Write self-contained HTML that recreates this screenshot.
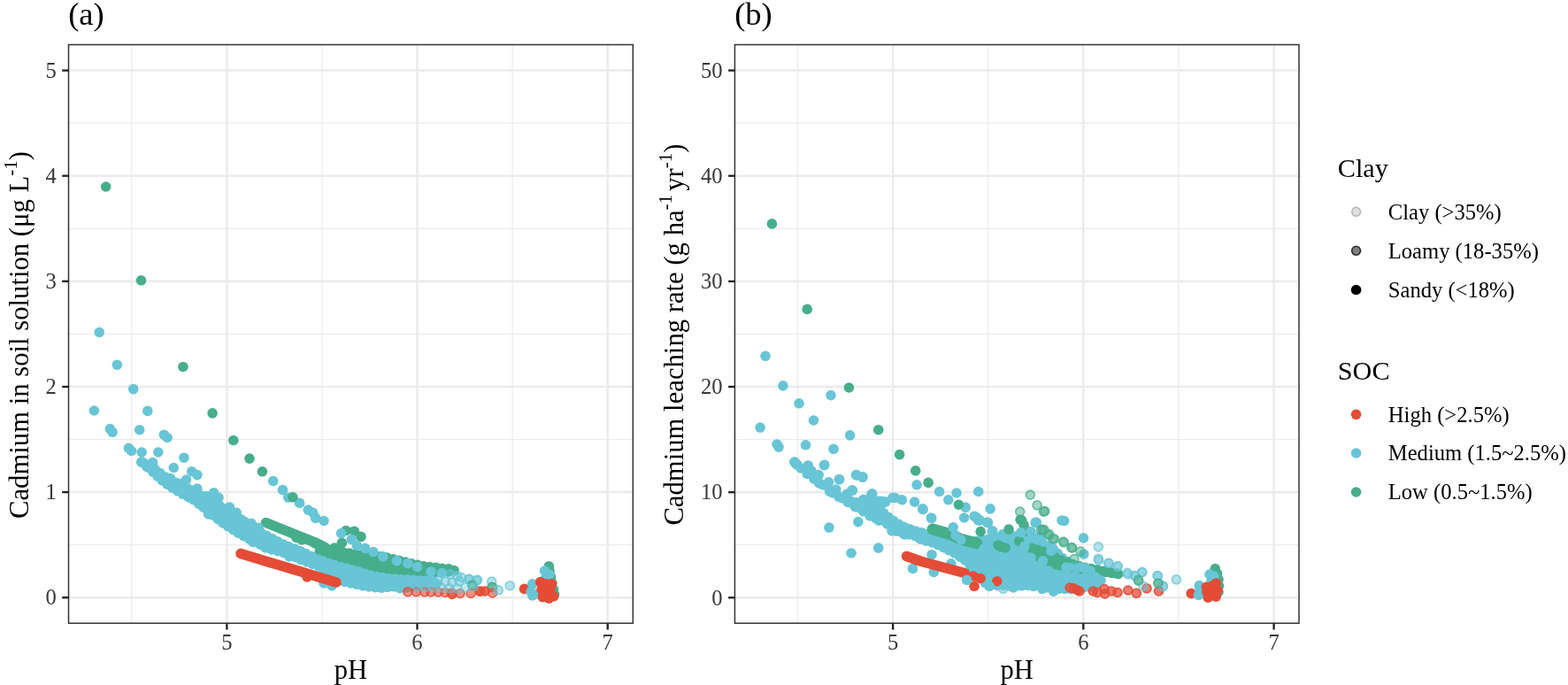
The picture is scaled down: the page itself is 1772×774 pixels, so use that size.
<!DOCTYPE html>
<html><head><meta charset="utf-8"><title>Cadmium vs pH</title><style>html,body{margin:0;padding:0;background:#fff;}svg{display:block;}</style></head><body>
<svg width="1772" height="774" viewBox="0 0 1772 774" font-family='"Liberation Serif", serif'>
<rect width="1772" height="774" fill="#ffffff"/>
<rect x="77.5" y="50.5" width="637.8" height="653.7" fill="#ffffff"/>
<line x1="148.8" y1="50.5" x2="148.8" y2="704.2" stroke="#EBEBEB" stroke-width="1.2"/>
<line x1="364.0" y1="50.5" x2="364.0" y2="704.2" stroke="#EBEBEB" stroke-width="1.2"/>
<line x1="579.1" y1="50.5" x2="579.1" y2="704.2" stroke="#EBEBEB" stroke-width="1.2"/>
<line x1="77.5" y1="615.6" x2="715.3" y2="615.6" stroke="#EBEBEB" stroke-width="1.2"/>
<line x1="77.5" y1="496.5" x2="715.3" y2="496.5" stroke="#EBEBEB" stroke-width="1.2"/>
<line x1="77.5" y1="377.4" x2="715.3" y2="377.4" stroke="#EBEBEB" stroke-width="1.2"/>
<line x1="77.5" y1="258.3" x2="715.3" y2="258.3" stroke="#EBEBEB" stroke-width="1.2"/>
<line x1="77.5" y1="139.2" x2="715.3" y2="139.2" stroke="#EBEBEB" stroke-width="1.2"/>
<line x1="256.4" y1="50.5" x2="256.4" y2="704.2" stroke="#EBEBEB" stroke-width="2.5"/>
<line x1="471.5" y1="50.5" x2="471.5" y2="704.2" stroke="#EBEBEB" stroke-width="2.5"/>
<line x1="686.7" y1="50.5" x2="686.7" y2="704.2" stroke="#EBEBEB" stroke-width="2.5"/>
<line x1="77.5" y1="675.2" x2="715.3" y2="675.2" stroke="#EBEBEB" stroke-width="2.5"/>
<line x1="77.5" y1="556.1" x2="715.3" y2="556.1" stroke="#EBEBEB" stroke-width="2.5"/>
<line x1="77.5" y1="437.0" x2="715.3" y2="437.0" stroke="#EBEBEB" stroke-width="2.5"/>
<line x1="77.5" y1="317.8" x2="715.3" y2="317.8" stroke="#EBEBEB" stroke-width="2.5"/>
<line x1="77.5" y1="198.7" x2="715.3" y2="198.7" stroke="#EBEBEB" stroke-width="2.5"/>
<line x1="77.5" y1="79.6" x2="715.3" y2="79.6" stroke="#EBEBEB" stroke-width="2.5"/>
<line x1="901.5" y1="50.5" x2="901.5" y2="704.2" stroke="#EBEBEB" stroke-width="1.2"/>
<line x1="1116.7" y1="50.5" x2="1116.7" y2="704.2" stroke="#EBEBEB" stroke-width="1.2"/>
<line x1="1331.9" y1="50.5" x2="1331.9" y2="704.2" stroke="#EBEBEB" stroke-width="1.2"/>
<line x1="830.4" y1="615.7" x2="1468.0" y2="615.7" stroke="#EBEBEB" stroke-width="1.2"/>
<line x1="830.4" y1="496.6" x2="1468.0" y2="496.6" stroke="#EBEBEB" stroke-width="1.2"/>
<line x1="830.4" y1="377.4" x2="1468.0" y2="377.4" stroke="#EBEBEB" stroke-width="1.2"/>
<line x1="830.4" y1="258.3" x2="1468.0" y2="258.3" stroke="#EBEBEB" stroke-width="1.2"/>
<line x1="830.4" y1="139.2" x2="1468.0" y2="139.2" stroke="#EBEBEB" stroke-width="1.2"/>
<line x1="1009.1" y1="50.5" x2="1009.1" y2="704.2" stroke="#EBEBEB" stroke-width="2.5"/>
<line x1="1224.3" y1="50.5" x2="1224.3" y2="704.2" stroke="#EBEBEB" stroke-width="2.5"/>
<line x1="1439.6" y1="50.5" x2="1439.6" y2="704.2" stroke="#EBEBEB" stroke-width="2.5"/>
<line x1="830.4" y1="675.3" x2="1468.0" y2="675.3" stroke="#EBEBEB" stroke-width="2.5"/>
<line x1="830.4" y1="556.2" x2="1468.0" y2="556.2" stroke="#EBEBEB" stroke-width="2.5"/>
<line x1="830.4" y1="437.0" x2="1468.0" y2="437.0" stroke="#EBEBEB" stroke-width="2.5"/>
<line x1="830.4" y1="317.9" x2="1468.0" y2="317.9" stroke="#EBEBEB" stroke-width="2.5"/>
<line x1="830.4" y1="198.7" x2="1468.0" y2="198.7" stroke="#EBEBEB" stroke-width="2.5"/>
<line x1="830.4" y1="79.6" x2="1468.0" y2="79.6" stroke="#EBEBEB" stroke-width="2.5"/>
<g><path d="M300.5,590.5 L330.0,602.5 L354.6,612.3 L368.0,619.0" fill="none" stroke="#47AE8C" stroke-width="11.6" stroke-linecap="round" stroke-linejoin="round"/>
<circle cx="335.0" cy="607.5" r="5.8" fill="#47AE8C"/>
<circle cx="341.0" cy="610.0" r="5.8" fill="#47AE8C"/>
<circle cx="356.0" cy="614.0" r="5.8" fill="#47AE8C"/>
<circle cx="362.0" cy="616.0" r="5.8" fill="#47AE8C"/>
<path d="M360.8,616.6 L360.8,623.3 L372.2,628.6 L401.4,639.4 L450.5,646.7 L489.8,647.2 L512.6,645.4 L513.3,644.3 L511.8,643.2 L499.3,642.3 L474.6,639.1 L434.0,629.2 L399.4,625.8 L375.2,622.2 L360.8,616.6Z" fill="#47AE8C"/>
<circle cx="360.8" cy="616.6" r="5.8" fill="#47AE8C"/>
<circle cx="361.2" cy="623.5" r="5.8" fill="#47AE8C"/>
<circle cx="367.6" cy="626.5" r="5.8" fill="#47AE8C"/>
<circle cx="374.1" cy="629.3" r="5.8" fill="#47AE8C"/>
<circle cx="380.7" cy="631.8" r="5.8" fill="#47AE8C"/>
<circle cx="387.4" cy="634.2" r="5.8" fill="#47AE8C"/>
<circle cx="394.1" cy="636.7" r="5.8" fill="#47AE8C"/>
<circle cx="400.7" cy="639.1" r="5.8" fill="#47AE8C"/>
<circle cx="407.7" cy="640.3" r="5.8" fill="#47AE8C"/>
<circle cx="414.7" cy="641.3" r="5.8" fill="#47AE8C"/>
<circle cx="421.8" cy="642.4" r="5.8" fill="#47AE8C"/>
<circle cx="428.8" cy="643.5" r="5.8" fill="#47AE8C"/>
<circle cx="435.8" cy="644.5" r="5.8" fill="#47AE8C"/>
<circle cx="442.8" cy="645.6" r="5.8" fill="#47AE8C"/>
<circle cx="449.8" cy="646.6" r="5.8" fill="#47AE8C"/>
<circle cx="456.9" cy="646.8" r="5.8" fill="#47AE8C"/>
<circle cx="464.0" cy="646.9" r="5.8" fill="#47AE8C"/>
<circle cx="471.1" cy="647.0" r="5.8" fill="#47AE8C"/>
<circle cx="478.2" cy="647.1" r="5.8" fill="#47AE8C"/>
<circle cx="485.3" cy="647.1" r="5.8" fill="#47AE8C"/>
<circle cx="492.4" cy="647.0" r="5.8" fill="#47AE8C"/>
<circle cx="499.5" cy="646.5" r="5.8" fill="#47AE8C"/>
<circle cx="506.6" cy="645.9" r="5.8" fill="#47AE8C"/>
<circle cx="513.2" cy="644.6" r="5.8" fill="#47AE8C"/>
<circle cx="506.9" cy="642.8" r="5.8" fill="#47AE8C"/>
<circle cx="499.9" cy="642.3" r="5.8" fill="#47AE8C"/>
<circle cx="492.8" cy="641.4" r="5.8" fill="#47AE8C"/>
<circle cx="485.8" cy="640.5" r="5.8" fill="#47AE8C"/>
<circle cx="478.7" cy="639.7" r="5.8" fill="#47AE8C"/>
<circle cx="471.8" cy="638.4" r="5.8" fill="#47AE8C"/>
<circle cx="464.9" cy="636.8" r="5.8" fill="#47AE8C"/>
<circle cx="458.0" cy="635.1" r="5.8" fill="#47AE8C"/>
<circle cx="451.1" cy="633.4" r="5.8" fill="#47AE8C"/>
<circle cx="444.2" cy="631.7" r="5.8" fill="#47AE8C"/>
<circle cx="437.3" cy="630.0" r="5.8" fill="#47AE8C"/>
<circle cx="430.3" cy="628.9" r="5.8" fill="#47AE8C"/>
<circle cx="423.2" cy="628.2" r="5.8" fill="#47AE8C"/>
<circle cx="416.2" cy="627.4" r="5.8" fill="#47AE8C"/>
<circle cx="409.1" cy="626.7" r="5.8" fill="#47AE8C"/>
<circle cx="402.0" cy="626.0" r="5.8" fill="#47AE8C"/>
<circle cx="395.0" cy="625.1" r="5.8" fill="#47AE8C"/>
<circle cx="388.0" cy="624.1" r="5.8" fill="#47AE8C"/>
<circle cx="381.0" cy="623.1" r="5.8" fill="#47AE8C"/>
<circle cx="374.0" cy="621.8" r="5.8" fill="#47AE8C"/>
<circle cx="367.4" cy="619.2" r="5.8" fill="#47AE8C"/>
<circle cx="391.0" cy="599.5" r="5.8" fill="#47AE8C"/>
<circle cx="400.3" cy="600.2" r="5.8" fill="#47AE8C"/>
<circle cx="408.0" cy="606.4" r="5.8" fill="#47AE8C"/>
<circle cx="386.4" cy="613.4" r="5.8" fill="#47AE8C"/>
<circle cx="378.0" cy="619.0" r="5.8" fill="#47AE8C"/>
<path d="M163.0,523.5 L183.7,543.5 L193.2,550.2 L204.8,557.4 L218.1,564.1 L236.6,578.4 L249.5,589.3 L268.0,601.5 L287.6,612.3 L302.1,619.1 L326.6,626.4 L342.2,633.1 L362.6,640.8 L375.3,651.2 L385.0,656.5 L414.8,662.8 L430.0,664.2 L445.6,662.7 L453.4,665.0 L469.4,662.2 L493.1,659.9 L493.5,658.1 L491.7,656.7 L439.7,653.8 L421.0,650.7 L404.4,645.6 L374.5,637.6 L358.0,631.4 L337.7,621.8 L321.4,615.7 L290.3,599.6 L257.0,576.0 L245.4,570.2 L232.1,562.0 L217.4,554.2 L188.4,540.2 L174.8,529.9 L163.0,523.5Z" fill="#68C5D6"/>
<circle cx="163.0" cy="523.5" r="5.8" fill="#68C5D6"/>
<circle cx="168.1" cy="528.4" r="5.8" fill="#68C5D6"/>
<circle cx="173.1" cy="533.3" r="5.8" fill="#68C5D6"/>
<circle cx="178.2" cy="538.1" r="5.8" fill="#68C5D6"/>
<circle cx="183.2" cy="543.0" r="5.8" fill="#68C5D6"/>
<circle cx="188.9" cy="547.1" r="5.8" fill="#68C5D6"/>
<circle cx="194.7" cy="551.1" r="5.8" fill="#68C5D6"/>
<circle cx="200.6" cy="554.8" r="5.8" fill="#68C5D6"/>
<circle cx="206.6" cy="558.3" r="5.8" fill="#68C5D6"/>
<circle cx="212.9" cy="561.5" r="5.8" fill="#68C5D6"/>
<circle cx="219.0" cy="564.8" r="5.8" fill="#68C5D6"/>
<circle cx="224.6" cy="569.1" r="5.8" fill="#68C5D6"/>
<circle cx="230.1" cy="573.4" r="5.8" fill="#68C5D6"/>
<circle cx="235.6" cy="577.7" r="5.8" fill="#68C5D6"/>
<circle cx="241.0" cy="582.2" r="5.8" fill="#68C5D6"/>
<circle cx="246.4" cy="586.7" r="5.8" fill="#68C5D6"/>
<circle cx="251.9" cy="591.0" r="5.8" fill="#68C5D6"/>
<circle cx="257.8" cy="594.8" r="5.8" fill="#68C5D6"/>
<circle cx="263.6" cy="598.7" r="5.8" fill="#68C5D6"/>
<circle cx="269.6" cy="602.4" r="5.8" fill="#68C5D6"/>
<circle cx="275.7" cy="605.8" r="5.8" fill="#68C5D6"/>
<circle cx="281.8" cy="609.1" r="5.8" fill="#68C5D6"/>
<circle cx="288.0" cy="612.5" r="5.8" fill="#68C5D6"/>
<circle cx="294.3" cy="615.5" r="5.8" fill="#68C5D6"/>
<circle cx="300.7" cy="618.4" r="5.8" fill="#68C5D6"/>
<circle cx="307.3" cy="620.6" r="5.8" fill="#68C5D6"/>
<circle cx="314.0" cy="622.7" r="5.8" fill="#68C5D6"/>
<circle cx="320.7" cy="624.7" r="5.8" fill="#68C5D6"/>
<circle cx="327.4" cy="626.8" r="5.8" fill="#68C5D6"/>
<circle cx="333.9" cy="629.5" r="5.8" fill="#68C5D6"/>
<circle cx="340.3" cy="632.3" r="5.8" fill="#68C5D6"/>
<circle cx="346.8" cy="634.9" r="5.8" fill="#68C5D6"/>
<circle cx="353.4" cy="637.3" r="5.8" fill="#68C5D6"/>
<circle cx="359.9" cy="639.8" r="5.8" fill="#68C5D6"/>
<circle cx="365.8" cy="643.4" r="5.8" fill="#68C5D6"/>
<circle cx="371.2" cy="647.9" r="5.8" fill="#68C5D6"/>
<circle cx="376.9" cy="652.0" r="5.8" fill="#68C5D6"/>
<circle cx="383.0" cy="655.4" r="5.8" fill="#68C5D6"/>
<circle cx="389.6" cy="657.5" r="5.8" fill="#68C5D6"/>
<circle cx="396.5" cy="658.9" r="5.8" fill="#68C5D6"/>
<circle cx="403.3" cy="660.3" r="5.8" fill="#68C5D6"/>
<circle cx="410.2" cy="661.8" r="5.8" fill="#68C5D6"/>
<circle cx="417.1" cy="663.0" r="5.8" fill="#68C5D6"/>
<circle cx="424.1" cy="663.6" r="5.8" fill="#68C5D6"/>
<circle cx="431.1" cy="664.1" r="5.8" fill="#68C5D6"/>
<circle cx="438.0" cy="663.4" r="5.8" fill="#68C5D6"/>
<circle cx="445.0" cy="662.8" r="5.8" fill="#68C5D6"/>
<circle cx="451.7" cy="664.6" r="5.8" fill="#68C5D6"/>
<circle cx="458.6" cy="664.1" r="5.8" fill="#68C5D6"/>
<circle cx="465.5" cy="662.9" r="5.8" fill="#68C5D6"/>
<circle cx="472.4" cy="661.9" r="5.8" fill="#68C5D6"/>
<circle cx="479.4" cy="661.2" r="5.8" fill="#68C5D6"/>
<circle cx="486.4" cy="660.5" r="5.8" fill="#68C5D6"/>
<circle cx="493.1" cy="659.6" r="5.8" fill="#68C5D6"/>
<circle cx="488.5" cy="656.5" r="5.8" fill="#68C5D6"/>
<circle cx="481.5" cy="656.1" r="5.8" fill="#68C5D6"/>
<circle cx="474.5" cy="655.7" r="5.8" fill="#68C5D6"/>
<circle cx="467.5" cy="655.3" r="5.8" fill="#68C5D6"/>
<circle cx="460.5" cy="654.9" r="5.8" fill="#68C5D6"/>
<circle cx="453.5" cy="654.6" r="5.8" fill="#68C5D6"/>
<circle cx="446.5" cy="654.2" r="5.8" fill="#68C5D6"/>
<circle cx="439.5" cy="653.8" r="5.8" fill="#68C5D6"/>
<circle cx="432.6" cy="652.6" r="5.8" fill="#68C5D6"/>
<circle cx="425.7" cy="651.5" r="5.8" fill="#68C5D6"/>
<circle cx="418.9" cy="650.0" r="5.8" fill="#68C5D6"/>
<circle cx="412.2" cy="648.0" r="5.8" fill="#68C5D6"/>
<circle cx="405.5" cy="645.9" r="5.8" fill="#68C5D6"/>
<circle cx="398.7" cy="644.1" r="5.8" fill="#68C5D6"/>
<circle cx="392.0" cy="642.3" r="5.8" fill="#68C5D6"/>
<circle cx="385.2" cy="640.5" r="5.8" fill="#68C5D6"/>
<circle cx="378.4" cy="638.6" r="5.8" fill="#68C5D6"/>
<circle cx="371.7" cy="636.6" r="5.8" fill="#68C5D6"/>
<circle cx="365.2" cy="634.1" r="5.8" fill="#68C5D6"/>
<circle cx="358.6" cy="631.7" r="5.8" fill="#68C5D6"/>
<circle cx="352.2" cy="628.7" r="5.8" fill="#68C5D6"/>
<circle cx="345.9" cy="625.7" r="5.8" fill="#68C5D6"/>
<circle cx="339.6" cy="622.7" r="5.8" fill="#68C5D6"/>
<circle cx="333.1" cy="620.1" r="5.8" fill="#68C5D6"/>
<circle cx="326.5" cy="617.6" r="5.8" fill="#68C5D6"/>
<circle cx="320.1" cy="615.0" r="5.8" fill="#68C5D6"/>
<circle cx="313.8" cy="611.8" r="5.8" fill="#68C5D6"/>
<circle cx="307.6" cy="608.6" r="5.8" fill="#68C5D6"/>
<circle cx="301.4" cy="605.3" r="5.8" fill="#68C5D6"/>
<circle cx="295.1" cy="602.1" r="5.8" fill="#68C5D6"/>
<circle cx="289.0" cy="598.7" r="5.8" fill="#68C5D6"/>
<circle cx="283.3" cy="594.7" r="5.8" fill="#68C5D6"/>
<circle cx="277.6" cy="590.6" r="5.8" fill="#68C5D6"/>
<circle cx="271.9" cy="586.6" r="5.8" fill="#68C5D6"/>
<circle cx="266.2" cy="582.5" r="5.8" fill="#68C5D6"/>
<circle cx="260.5" cy="578.4" r="5.8" fill="#68C5D6"/>
<circle cx="254.5" cy="574.8" r="5.8" fill="#68C5D6"/>
<circle cx="248.3" cy="571.6" r="5.8" fill="#68C5D6"/>
<circle cx="242.2" cy="568.2" r="5.8" fill="#68C5D6"/>
<circle cx="236.2" cy="564.5" r="5.8" fill="#68C5D6"/>
<circle cx="230.2" cy="561.0" r="5.8" fill="#68C5D6"/>
<circle cx="224.0" cy="557.7" r="5.8" fill="#68C5D6"/>
<circle cx="217.8" cy="554.4" r="5.8" fill="#68C5D6"/>
<circle cx="211.5" cy="551.3" r="5.8" fill="#68C5D6"/>
<circle cx="205.2" cy="548.3" r="5.8" fill="#68C5D6"/>
<circle cx="198.9" cy="545.2" r="5.8" fill="#68C5D6"/>
<circle cx="192.6" cy="542.2" r="5.8" fill="#68C5D6"/>
<circle cx="186.5" cy="538.7" r="5.8" fill="#68C5D6"/>
<circle cx="180.9" cy="534.5" r="5.8" fill="#68C5D6"/>
<circle cx="175.3" cy="530.3" r="5.8" fill="#68C5D6"/>
<circle cx="169.2" cy="526.9" r="5.8" fill="#68C5D6"/>
<circle cx="159.8" cy="522.2" r="5.8" fill="#68C5D6"/>
<circle cx="166.0" cy="527.5" r="5.8" fill="#68C5D6"/>
<circle cx="173.0" cy="533.0" r="5.8" fill="#68C5D6"/>
<circle cx="178.0" cy="537.5" r="5.8" fill="#68C5D6"/>
<circle cx="184.6" cy="541.0" r="5.8" fill="#68C5D6"/>
<circle cx="191.0" cy="546.0" r="5.8" fill="#68C5D6"/>
<circle cx="197.0" cy="550.0" r="5.8" fill="#68C5D6"/>
<circle cx="204.0" cy="554.0" r="5.8" fill="#68C5D6"/>
<circle cx="211.0" cy="558.5" r="5.8" fill="#68C5D6"/>
<circle cx="218.0" cy="563.0" r="5.8" fill="#68C5D6"/>
<circle cx="225.0" cy="568.0" r="5.8" fill="#68C5D6"/>
<circle cx="112.2" cy="375.5" r="5.8" fill="#68C5D6"/>
<circle cx="132.3" cy="412.2" r="5.8" fill="#68C5D6"/>
<circle cx="150.7" cy="439.6" r="5.8" fill="#68C5D6"/>
<circle cx="106.4" cy="464.0" r="5.8" fill="#68C5D6"/>
<circle cx="166.8" cy="464.4" r="5.8" fill="#68C5D6"/>
<circle cx="124.4" cy="484.6" r="5.8" fill="#68C5D6"/>
<circle cx="127.1" cy="488.3" r="5.8" fill="#68C5D6"/>
<circle cx="157.7" cy="485.7" r="5.8" fill="#68C5D6"/>
<circle cx="185.4" cy="491.2" r="5.8" fill="#68C5D6"/>
<circle cx="189.1" cy="494.5" r="5.8" fill="#68C5D6"/>
<circle cx="145.4" cy="506.4" r="5.8" fill="#68C5D6"/>
<circle cx="148.5" cy="509.5" r="5.8" fill="#68C5D6"/>
<circle cx="160.2" cy="511.0" r="5.8" fill="#68C5D6"/>
<circle cx="178.8" cy="511.0" r="5.8" fill="#68C5D6"/>
<circle cx="207.9" cy="517.2" r="5.8" fill="#68C5D6"/>
<circle cx="160.2" cy="521.9" r="5.8" fill="#68C5D6"/>
<circle cx="172.6" cy="522.6" r="5.8" fill="#68C5D6"/>
<circle cx="196.3" cy="528.5" r="5.8" fill="#68C5D6"/>
<circle cx="216.7" cy="532.7" r="5.8" fill="#68C5D6"/>
<circle cx="222.9" cy="536.6" r="5.8" fill="#68C5D6"/>
<circle cx="185.0" cy="542.0" r="5.8" fill="#68C5D6"/>
<circle cx="192.7" cy="540.5" r="5.8" fill="#68C5D6"/>
<circle cx="210.5" cy="542.0" r="5.8" fill="#68C5D6"/>
<circle cx="203.6" cy="546.7" r="5.8" fill="#68C5D6"/>
<circle cx="222.9" cy="552.0" r="5.8" fill="#68C5D6"/>
<circle cx="233.0" cy="560.6" r="5.8" fill="#68C5D6"/>
<circle cx="241.6" cy="556.7" r="5.8" fill="#68C5D6"/>
<circle cx="247.0" cy="562.2" r="5.8" fill="#68C5D6"/>
<circle cx="259.4" cy="573.0" r="5.8" fill="#68C5D6"/>
<circle cx="267.1" cy="579.2" r="5.8" fill="#68C5D6"/>
<circle cx="274.9" cy="588.5" r="5.8" fill="#68C5D6"/>
<circle cx="284.2" cy="591.6" r="5.8" fill="#68C5D6"/>
<circle cx="292.0" cy="596.3" r="5.8" fill="#68C5D6"/>
<circle cx="214.4" cy="562.2" r="5.8" fill="#68C5D6"/>
<circle cx="206.7" cy="556.0" r="5.8" fill="#68C5D6"/>
<circle cx="195.8" cy="550.5" r="5.8" fill="#68C5D6"/>
<circle cx="226.8" cy="570.0" r="5.8" fill="#68C5D6"/>
<circle cx="236.1" cy="573.0" r="5.8" fill="#68C5D6"/>
<circle cx="242.3" cy="580.8" r="5.8" fill="#68C5D6"/>
<circle cx="251.6" cy="585.4" r="5.8" fill="#68C5D6"/>
<circle cx="264.0" cy="591.6" r="5.8" fill="#68C5D6"/>
<circle cx="235.7" cy="581.0" r="5.8" fill="#68C5D6"/>
<circle cx="246.5" cy="586.0" r="5.8" fill="#68C5D6"/>
<circle cx="265.0" cy="598.0" r="5.8" fill="#68C5D6"/>
<circle cx="274.4" cy="604.0" r="5.8" fill="#68C5D6"/>
<circle cx="285.3" cy="609.0" r="5.8" fill="#68C5D6"/>
<circle cx="299.2" cy="616.5" r="5.8" fill="#68C5D6"/>
<circle cx="308.5" cy="620.0" r="5.8" fill="#68C5D6"/>
<circle cx="324.0" cy="624.5" r="5.8" fill="#68C5D6"/>
<circle cx="339.5" cy="632.0" r="5.8" fill="#68C5D6"/>
<circle cx="295.5" cy="613.0" r="5.8" fill="#68C5D6"/>
<circle cx="306.4" cy="618.0" r="5.8" fill="#68C5D6"/>
<circle cx="286.0" cy="612.5" r="5.8" fill="#68C5D6"/>
<circle cx="300.0" cy="619.0" r="5.8" fill="#68C5D6"/>
<circle cx="307.0" cy="621.0" r="5.8" fill="#68C5D6"/>
<circle cx="327.0" cy="629.0" r="5.8" fill="#68C5D6"/>
<circle cx="308.7" cy="543.6" r="5.8" fill="#68C5D6"/>
<circle cx="319.5" cy="553.6" r="5.8" fill="#68C5D6"/>
<circle cx="325.7" cy="562.2" r="5.8" fill="#68C5D6"/>
<circle cx="338.6" cy="568.4" r="5.8" fill="#68C5D6"/>
<circle cx="348.2" cy="576.1" r="5.8" fill="#68C5D6"/>
<circle cx="353.6" cy="579.2" r="5.8" fill="#68C5D6"/>
<circle cx="356.7" cy="585.4" r="5.8" fill="#68C5D6"/>
<circle cx="366.0" cy="588.5" r="5.8" fill="#68C5D6"/>
<circle cx="385.6" cy="602.6" r="5.8" fill="#68C5D6"/>
<circle cx="397.2" cy="609.5" r="5.8" fill="#68C5D6"/>
<circle cx="403.4" cy="616.5" r="5.8" fill="#68C5D6"/>
<circle cx="412.7" cy="619.6" r="5.8" fill="#68C5D6"/>
<circle cx="422.0" cy="623.5" r="5.8" fill="#68C5D6"/>
<circle cx="432.9" cy="628.9" r="5.8" fill="#68C5D6"/>
<circle cx="448.4" cy="633.6" r="5.8" fill="#68C5D6"/>
<circle cx="460.8" cy="636.7" r="5.8" fill="#68C5D6"/>
<circle cx="471.6" cy="640.5" r="5.8" fill="#68C5D6"/>
<circle cx="487.1" cy="646.0" r="5.8" fill="#68C5D6"/>
<circle cx="499.5" cy="647.5" r="5.8" fill="#68C5D6"/>
<circle cx="495.0" cy="656.0" r="5.0" fill="#68C5D6" fill-opacity="0.5" stroke="#68C5D6" stroke-opacity="0.75" stroke-width="1.6"/>
<circle cx="503.0" cy="657.5" r="5.0" fill="#68C5D6" fill-opacity="0.5" stroke="#68C5D6" stroke-opacity="0.75" stroke-width="1.6"/>
<circle cx="511.0" cy="658.0" r="5.0" fill="#68C5D6" fill-opacity="0.5" stroke="#68C5D6" stroke-opacity="0.75" stroke-width="1.6"/>
<circle cx="519.0" cy="657.0" r="5.0" fill="#68C5D6" fill-opacity="0.5" stroke="#68C5D6" stroke-opacity="0.75" stroke-width="1.6"/>
<circle cx="508.8" cy="649.0" r="5.0" fill="#68C5D6" fill-opacity="0.5" stroke="#68C5D6" stroke-opacity="0.75" stroke-width="1.6"/>
<circle cx="516.6" cy="650.6" r="5.0" fill="#68C5D6" fill-opacity="0.5" stroke="#68C5D6" stroke-opacity="0.75" stroke-width="1.6"/>
<circle cx="521.4" cy="652.5" r="5.0" fill="#68C5D6" fill-opacity="0.5" stroke="#68C5D6" stroke-opacity="0.75" stroke-width="1.6"/>
<circle cx="530.4" cy="654.4" r="5.0" fill="#68C5D6" fill-opacity="0.5" stroke="#68C5D6" stroke-opacity="0.75" stroke-width="1.6"/>
<circle cx="539.5" cy="655.3" r="5.0" fill="#68C5D6" fill-opacity="0.5" stroke="#68C5D6" stroke-opacity="0.75" stroke-width="1.6"/>
<circle cx="555.7" cy="657.1" r="5.0" fill="#68C5D6" fill-opacity="0.5" stroke="#68C5D6" stroke-opacity="0.75" stroke-width="1.6"/>
<circle cx="576.3" cy="661.7" r="5.0" fill="#68C5D6" fill-opacity="0.5" stroke="#68C5D6" stroke-opacity="0.75" stroke-width="1.6"/>
<circle cx="529.7" cy="654.6" r="5.0" fill="#68C5D6" fill-opacity="0.5" stroke="#68C5D6" stroke-opacity="0.75" stroke-width="1.6"/>
<circle cx="538.8" cy="655.9" r="5.0" fill="#68C5D6" fill-opacity="0.5" stroke="#68C5D6" stroke-opacity="0.75" stroke-width="1.6"/>
<circle cx="534.0" cy="661.6" r="5.0" fill="#47AE8C" fill-opacity="0.5" stroke="#47AE8C" stroke-opacity="0.75" stroke-width="1.6"/>
<circle cx="555.7" cy="663.4" r="5.0" fill="#47AE8C" fill-opacity="0.5" stroke="#47AE8C" stroke-opacity="0.75" stroke-width="1.6"/>
<circle cx="556.9" cy="663.7" r="5.0" fill="#47AE8C" fill-opacity="0.5" stroke="#47AE8C" stroke-opacity="0.75" stroke-width="1.6"/>
<circle cx="533.6" cy="661.1" r="5.0" fill="#47AE8C" fill-opacity="0.5" stroke="#47AE8C" stroke-opacity="0.75" stroke-width="1.6"/>
<circle cx="119.7" cy="211.0" r="5.8" fill="#47AE8C"/>
<circle cx="159.5" cy="316.8" r="5.8" fill="#47AE8C"/>
<circle cx="206.9" cy="414.5" r="5.8" fill="#47AE8C"/>
<circle cx="240.1" cy="466.9" r="5.8" fill="#47AE8C"/>
<circle cx="263.8" cy="497.5" r="5.8" fill="#47AE8C"/>
<circle cx="282.0" cy="518.1" r="5.8" fill="#47AE8C"/>
<circle cx="296.4" cy="532.8" r="5.8" fill="#47AE8C"/>
<circle cx="330.9" cy="561.9" r="5.8" fill="#47AE8C"/>
<circle cx="366.0" cy="659.0" r="5.8" fill="#68C5D6"/>
<circle cx="375.0" cy="662.0" r="5.8" fill="#68C5D6"/>
<path d="M272.0,625.5 L300.0,634.0 L342.0,646.5 L360.0,652.0 L380.0,658.0" fill="none" stroke="#E44C37" stroke-width="11.6" stroke-linecap="round" stroke-linejoin="round"/>
<circle cx="347.0" cy="652.0" r="5.8" fill="#E44C37"/>
<circle cx="460.8" cy="668.8" r="5.0" fill="#E44C37" fill-opacity="0.62" stroke="#E44C37" stroke-opacity="0.86" stroke-width="1.6"/>
<circle cx="470.3" cy="668.8" r="5.0" fill="#E44C37" fill-opacity="0.62" stroke="#E44C37" stroke-opacity="0.86" stroke-width="1.6"/>
<circle cx="479.8" cy="668.8" r="5.0" fill="#E44C37" fill-opacity="0.62" stroke="#E44C37" stroke-opacity="0.86" stroke-width="1.6"/>
<circle cx="487.0" cy="669.0" r="5.0" fill="#E44C37" fill-opacity="0.62" stroke="#E44C37" stroke-opacity="0.86" stroke-width="1.6"/>
<circle cx="495.2" cy="669.0" r="5.0" fill="#E44C37" fill-opacity="0.62" stroke="#E44C37" stroke-opacity="0.86" stroke-width="1.6"/>
<circle cx="503.0" cy="669.5" r="5.0" fill="#E44C37" fill-opacity="0.62" stroke="#E44C37" stroke-opacity="0.86" stroke-width="1.6"/>
<circle cx="510.5" cy="670.0" r="5.0" fill="#E44C37" fill-opacity="0.62" stroke="#E44C37" stroke-opacity="0.86" stroke-width="1.6"/>
<circle cx="520.0" cy="670.5" r="5.0" fill="#E44C37" fill-opacity="0.62" stroke="#E44C37" stroke-opacity="0.86" stroke-width="1.6"/>
<circle cx="532.2" cy="670.5" r="5.0" fill="#E44C37" fill-opacity="0.62" stroke="#E44C37" stroke-opacity="0.86" stroke-width="1.6"/>
<circle cx="542.2" cy="668.0" r="5.0" fill="#E44C37" fill-opacity="0.62" stroke="#E44C37" stroke-opacity="0.86" stroke-width="1.6"/>
<circle cx="556.6" cy="670.0" r="5.0" fill="#E44C37" fill-opacity="0.62" stroke="#E44C37" stroke-opacity="0.86" stroke-width="1.6"/>
<circle cx="511.0" cy="671.4" r="5.0" fill="#E44C37" fill-opacity="0.62" stroke="#E44C37" stroke-opacity="0.86" stroke-width="1.6"/>
<circle cx="542.6" cy="668.2" r="5.0" fill="#E44C37" fill-opacity="0.85" stroke="#E44C37" stroke-opacity="0.98" stroke-width="1.6"/>
<circle cx="548.0" cy="668.0" r="5.0" fill="#E44C37" fill-opacity="0.85" stroke="#E44C37" stroke-opacity="0.98" stroke-width="1.6"/>
<circle cx="472.0" cy="663.0" r="5.0" fill="#68C5D6" fill-opacity="0.4" stroke="#68C5D6" stroke-opacity="0.64" stroke-width="1.6"/>
<circle cx="481.0" cy="663.5" r="5.0" fill="#68C5D6" fill-opacity="0.4" stroke="#68C5D6" stroke-opacity="0.64" stroke-width="1.6"/>
<circle cx="490.0" cy="664.0" r="5.0" fill="#68C5D6" fill-opacity="0.4" stroke="#68C5D6" stroke-opacity="0.64" stroke-width="1.6"/>
<circle cx="499.0" cy="664.0" r="5.0" fill="#68C5D6" fill-opacity="0.4" stroke="#68C5D6" stroke-opacity="0.64" stroke-width="1.6"/>
<circle cx="508.0" cy="664.5" r="5.0" fill="#68C5D6" fill-opacity="0.4" stroke="#68C5D6" stroke-opacity="0.64" stroke-width="1.6"/>
<circle cx="517.0" cy="665.0" r="5.0" fill="#68C5D6" fill-opacity="0.4" stroke="#68C5D6" stroke-opacity="0.64" stroke-width="1.6"/>
<circle cx="526.0" cy="664.0" r="5.0" fill="#68C5D6" fill-opacity="0.4" stroke="#68C5D6" stroke-opacity="0.64" stroke-width="1.6"/>
<circle cx="535.0" cy="663.0" r="5.0" fill="#68C5D6" fill-opacity="0.4" stroke="#68C5D6" stroke-opacity="0.64" stroke-width="1.6"/>
<circle cx="563.3" cy="666.9" r="5.0" fill="#68C5D6" fill-opacity="0.5" stroke="#68C5D6" stroke-opacity="0.75" stroke-width="1.6"/>
<circle cx="592.6" cy="665.4" r="5.8" fill="#E44C37"/>
<circle cx="620.3" cy="639.7" r="5.8" fill="#47AE8C"/>
<circle cx="621.0" cy="645.0" r="5.8" fill="#47AE8C"/>
<circle cx="622.5" cy="652.0" r="5.8" fill="#47AE8C"/>
<circle cx="624.0" cy="659.0" r="5.8" fill="#47AE8C"/>
<circle cx="625.5" cy="666.0" r="5.8" fill="#47AE8C"/>
<circle cx="626.5" cy="671.5" r="5.8" fill="#47AE8C"/>
<circle cx="615.5" cy="645.0" r="5.8" fill="#68C5D6"/>
<circle cx="618.0" cy="648.5" r="5.8" fill="#68C5D6"/>
<circle cx="617.0" cy="652.0" r="5.8" fill="#68C5D6"/>
<circle cx="621.0" cy="649.0" r="5.8" fill="#68C5D6"/>
<circle cx="601.7" cy="659.9" r="5.8" fill="#68C5D6"/>
<circle cx="600.2" cy="668.4" r="5.8" fill="#68C5D6"/>
<circle cx="604.0" cy="671.5" r="5.8" fill="#68C5D6"/>
<circle cx="601.7" cy="673.0" r="5.8" fill="#68C5D6"/>
<circle cx="610.6" cy="657.6" r="5.8" fill="#E44C37"/>
<circle cx="617.2" cy="659.9" r="5.8" fill="#E44C37"/>
<circle cx="623.4" cy="659.9" r="5.8" fill="#E44C37"/>
<circle cx="618.8" cy="668.4" r="5.8" fill="#E44C37"/>
<circle cx="625.7" cy="673.8" r="5.8" fill="#E44C37"/>
<circle cx="613.3" cy="674.6" r="5.8" fill="#E44C37"/>
<circle cx="620.3" cy="676.2" r="5.8" fill="#E44C37"/>
<circle cx="622.0" cy="665.0" r="5.8" fill="#E44C37"/>
<circle cx="612.0" cy="666.0" r="5.8" fill="#E44C37"/></g>
<g><circle cx="1053.0" cy="626.7" r="5.8" fill="#68C5D6"/>
<circle cx="1031.5" cy="642.4" r="5.8" fill="#68C5D6"/>
<circle cx="1055.3" cy="646.5" r="5.8" fill="#68C5D6"/>
<circle cx="1074.8" cy="636.9" r="5.8" fill="#68C5D6"/>
<path d="M1024.5,628.5 L1040.0,634.0 L1060.0,639.5 L1092.0,648.0 L1110.0,653.0" fill="none" stroke="#E44C37" stroke-width="11.6" stroke-linecap="round" stroke-linejoin="round"/>
<circle cx="1101.0" cy="662.5" r="5.8" fill="#E44C37"/>
<circle cx="1106.8" cy="652.5" r="5.8" fill="#E44C37"/>
<circle cx="1126.7" cy="656.8" r="5.8" fill="#E44C37"/>
<path d="M962.2,566.6 L961.8,568.3 L967.8,571.9 L980.4,578.0 L995.9,587.0 L1014.1,600.7 L1033.7,605.5 L1042.1,610.1 L1056.0,613.6 L1078.2,624.6 L1092.1,633.9 L1102.5,644.3 L1111.7,658.1 L1121.1,661.2 L1145.0,662.2 L1168.4,661.2 L1190.6,665.2 L1209.7,665.7 L1234.8,662.8 L1235.9,653.7 L1231.2,647.6 L1218.2,641.1 L1202.2,632.1 L1189.5,619.7 L1171.3,610.1 L1163.4,605.3 L1151.2,605.3 L1131.7,606.8 L1100.4,611.8 L1073.9,608.7 L1048.9,603.7 L1036.6,600.6 L1018.6,594.3 L1005.8,585.8 L998.2,579.4 L992.1,570.6 L983.9,566.9 L969.7,567.8 L962.2,566.6Z" fill="#68C5D6"/>
<circle cx="962.2" cy="566.6" r="5.8" fill="#68C5D6"/>
<circle cx="966.2" cy="571.0" r="5.8" fill="#68C5D6"/>
<circle cx="972.5" cy="574.2" r="5.8" fill="#68C5D6"/>
<circle cx="978.8" cy="577.2" r="5.8" fill="#68C5D6"/>
<circle cx="984.9" cy="580.6" r="5.8" fill="#68C5D6"/>
<circle cx="991.0" cy="584.1" r="5.8" fill="#68C5D6"/>
<circle cx="996.9" cy="587.7" r="5.8" fill="#68C5D6"/>
<circle cx="1002.5" cy="591.9" r="5.8" fill="#68C5D6"/>
<circle cx="1008.1" cy="596.1" r="5.8" fill="#68C5D6"/>
<circle cx="1013.7" cy="600.3" r="5.8" fill="#68C5D6"/>
<circle cx="1020.4" cy="602.2" r="5.8" fill="#68C5D6"/>
<circle cx="1027.2" cy="603.9" r="5.8" fill="#68C5D6"/>
<circle cx="1034.0" cy="605.7" r="5.8" fill="#68C5D6"/>
<circle cx="1040.2" cy="609.0" r="5.8" fill="#68C5D6"/>
<circle cx="1046.7" cy="611.2" r="5.8" fill="#68C5D6"/>
<circle cx="1053.5" cy="612.9" r="5.8" fill="#68C5D6"/>
<circle cx="1060.0" cy="615.6" r="5.8" fill="#68C5D6"/>
<circle cx="1066.3" cy="618.7" r="5.8" fill="#68C5D6"/>
<circle cx="1072.5" cy="621.8" r="5.8" fill="#68C5D6"/>
<circle cx="1078.7" cy="625.0" r="5.8" fill="#68C5D6"/>
<circle cx="1084.6" cy="628.9" r="5.8" fill="#68C5D6"/>
<circle cx="1090.4" cy="632.8" r="5.8" fill="#68C5D6"/>
<circle cx="1095.6" cy="637.4" r="5.8" fill="#68C5D6"/>
<circle cx="1100.5" cy="642.4" r="5.8" fill="#68C5D6"/>
<circle cx="1104.8" cy="647.8" r="5.8" fill="#68C5D6"/>
<circle cx="1108.7" cy="653.7" r="5.8" fill="#68C5D6"/>
<circle cx="1113.3" cy="658.6" r="5.8" fill="#68C5D6"/>
<circle cx="1119.9" cy="660.9" r="5.8" fill="#68C5D6"/>
<circle cx="1126.9" cy="661.5" r="5.8" fill="#68C5D6"/>
<circle cx="1133.8" cy="661.7" r="5.8" fill="#68C5D6"/>
<circle cx="1140.8" cy="662.0" r="5.8" fill="#68C5D6"/>
<circle cx="1147.8" cy="662.1" r="5.8" fill="#68C5D6"/>
<circle cx="1154.8" cy="661.8" r="5.8" fill="#68C5D6"/>
<circle cx="1161.8" cy="661.5" r="5.8" fill="#68C5D6"/>
<circle cx="1168.8" cy="661.3" r="5.8" fill="#68C5D6"/>
<circle cx="1175.7" cy="662.5" r="5.8" fill="#68C5D6"/>
<circle cx="1182.6" cy="663.8" r="5.8" fill="#68C5D6"/>
<circle cx="1189.5" cy="665.0" r="5.8" fill="#68C5D6"/>
<circle cx="1196.5" cy="665.4" r="5.8" fill="#68C5D6"/>
<circle cx="1203.5" cy="665.5" r="5.8" fill="#68C5D6"/>
<circle cx="1210.5" cy="665.6" r="5.8" fill="#68C5D6"/>
<circle cx="1217.4" cy="664.8" r="5.8" fill="#68C5D6"/>
<circle cx="1224.4" cy="664.0" r="5.8" fill="#68C5D6"/>
<circle cx="1231.3" cy="663.2" r="5.8" fill="#68C5D6"/>
<circle cx="1235.2" cy="659.3" r="5.8" fill="#68C5D6"/>
<circle cx="1235.1" cy="652.6" r="5.8" fill="#68C5D6"/>
<circle cx="1230.7" cy="647.3" r="5.8" fill="#68C5D6"/>
<circle cx="1224.4" cy="644.2" r="5.8" fill="#68C5D6"/>
<circle cx="1218.1" cy="641.0" r="5.8" fill="#68C5D6"/>
<circle cx="1212.0" cy="637.6" r="5.8" fill="#68C5D6"/>
<circle cx="1205.9" cy="634.2" r="5.8" fill="#68C5D6"/>
<circle cx="1200.2" cy="630.2" r="5.8" fill="#68C5D6"/>
<circle cx="1195.2" cy="625.3" r="5.8" fill="#68C5D6"/>
<circle cx="1190.2" cy="620.4" r="5.8" fill="#68C5D6"/>
<circle cx="1184.2" cy="616.9" r="5.8" fill="#68C5D6"/>
<circle cx="1178.0" cy="613.7" r="5.8" fill="#68C5D6"/>
<circle cx="1171.8" cy="610.4" r="5.8" fill="#68C5D6"/>
<circle cx="1165.8" cy="606.8" r="5.8" fill="#68C5D6"/>
<circle cx="1159.2" cy="605.3" r="5.8" fill="#68C5D6"/>
<circle cx="1152.2" cy="605.3" r="5.8" fill="#68C5D6"/>
<circle cx="1145.2" cy="605.7" r="5.8" fill="#68C5D6"/>
<circle cx="1138.3" cy="606.3" r="5.8" fill="#68C5D6"/>
<circle cx="1131.3" cy="606.8" r="5.8" fill="#68C5D6"/>
<circle cx="1124.4" cy="607.9" r="5.8" fill="#68C5D6"/>
<circle cx="1117.5" cy="609.0" r="5.8" fill="#68C5D6"/>
<circle cx="1110.5" cy="610.2" r="5.8" fill="#68C5D6"/>
<circle cx="1103.6" cy="611.3" r="5.8" fill="#68C5D6"/>
<circle cx="1096.7" cy="611.4" r="5.8" fill="#68C5D6"/>
<circle cx="1089.7" cy="610.5" r="5.8" fill="#68C5D6"/>
<circle cx="1082.8" cy="609.7" r="5.8" fill="#68C5D6"/>
<circle cx="1075.8" cy="608.9" r="5.8" fill="#68C5D6"/>
<circle cx="1068.9" cy="607.7" r="5.8" fill="#68C5D6"/>
<circle cx="1062.1" cy="606.3" r="5.8" fill="#68C5D6"/>
<circle cx="1055.2" cy="605.0" r="5.8" fill="#68C5D6"/>
<circle cx="1048.4" cy="603.6" r="5.8" fill="#68C5D6"/>
<circle cx="1041.6" cy="601.9" r="5.8" fill="#68C5D6"/>
<circle cx="1034.8" cy="600.0" r="5.8" fill="#68C5D6"/>
<circle cx="1028.2" cy="597.7" r="5.8" fill="#68C5D6"/>
<circle cx="1021.6" cy="595.3" r="5.8" fill="#68C5D6"/>
<circle cx="1015.4" cy="592.2" r="5.8" fill="#68C5D6"/>
<circle cx="1009.6" cy="588.3" r="5.8" fill="#68C5D6"/>
<circle cx="1003.9" cy="584.2" r="5.8" fill="#68C5D6"/>
<circle cx="998.6" cy="579.7" r="5.8" fill="#68C5D6"/>
<circle cx="994.5" cy="574.0" r="5.8" fill="#68C5D6"/>
<circle cx="989.5" cy="569.4" r="5.8" fill="#68C5D6"/>
<circle cx="983.1" cy="566.9" r="5.8" fill="#68C5D6"/>
<circle cx="976.1" cy="567.4" r="5.8" fill="#68C5D6"/>
<circle cx="969.1" cy="567.7" r="5.8" fill="#68C5D6"/>
<circle cx="990.0" cy="586.0" r="5.8" fill="#68C5D6"/>
<circle cx="1008.0" cy="600.0" r="5.8" fill="#68C5D6"/>
<circle cx="1022.0" cy="604.0" r="5.8" fill="#68C5D6"/>
<circle cx="1040.0" cy="609.0" r="5.8" fill="#68C5D6"/>
<circle cx="985.2" cy="559.0" r="5.8" fill="#68C5D6"/>
<circle cx="998.6" cy="567.2" r="5.8" fill="#68C5D6"/>
<circle cx="992.0" cy="566.0" r="5.8" fill="#68C5D6"/>
<circle cx="900.3" cy="524.7" r="5.8" fill="#68C5D6"/>
<circle cx="913.3" cy="526.2" r="5.8" fill="#68C5D6"/>
<circle cx="931.3" cy="525.7" r="5.8" fill="#68C5D6"/>
<circle cx="912.2" cy="535.5" r="5.8" fill="#68C5D6"/>
<circle cx="925.1" cy="536.5" r="5.8" fill="#68C5D6"/>
<circle cx="920.0" cy="541.2" r="5.8" fill="#68C5D6"/>
<circle cx="925.7" cy="545.8" r="5.8" fill="#68C5D6"/>
<circle cx="936.5" cy="544.8" r="5.8" fill="#68C5D6"/>
<circle cx="948.4" cy="541.7" r="5.8" fill="#68C5D6"/>
<circle cx="937.5" cy="555.1" r="5.8" fill="#68C5D6"/>
<circle cx="944.8" cy="553.1" r="5.8" fill="#68C5D6"/>
<circle cx="947.9" cy="561.3" r="5.8" fill="#68C5D6"/>
<circle cx="957.2" cy="558.2" r="5.8" fill="#68C5D6"/>
<circle cx="963.4" cy="554.1" r="5.8" fill="#68C5D6"/>
<circle cx="958.2" cy="567.5" r="5.8" fill="#68C5D6"/>
<circle cx="967.5" cy="536.5" r="5.8" fill="#68C5D6"/>
<circle cx="974.8" cy="539.1" r="5.8" fill="#68C5D6"/>
<circle cx="985.1" cy="558.8" r="5.8" fill="#68C5D6"/>
<circle cx="975.8" cy="564.4" r="5.8" fill="#68C5D6"/>
<circle cx="966.5" cy="572.7" r="5.8" fill="#68C5D6"/>
<circle cx="975.8" cy="577.9" r="5.8" fill="#68C5D6"/>
<circle cx="989.2" cy="571.7" r="5.8" fill="#68C5D6"/>
<circle cx="998.5" cy="567.5" r="5.8" fill="#68C5D6"/>
<circle cx="1008.9" cy="562.4" r="5.8" fill="#68C5D6"/>
<circle cx="983.0" cy="583.0" r="5.8" fill="#68C5D6"/>
<circle cx="993.4" cy="588.2" r="5.8" fill="#68C5D6"/>
<circle cx="1003.7" cy="592.4" r="5.8" fill="#68C5D6"/>
<circle cx="930.0" cy="548.0" r="5.8" fill="#68C5D6"/>
<circle cx="941.0" cy="557.0" r="5.8" fill="#68C5D6"/>
<circle cx="952.0" cy="563.0" r="5.8" fill="#68C5D6"/>
<circle cx="962.0" cy="568.0" r="5.8" fill="#68C5D6"/>
<circle cx="970.0" cy="572.0" r="5.8" fill="#68C5D6"/>
<circle cx="980.0" cy="578.0" r="5.8" fill="#68C5D6"/>
<circle cx="905.0" cy="529.0" r="5.8" fill="#68C5D6"/>
<circle cx="917.0" cy="532.0" r="5.8" fill="#68C5D6"/>
<circle cx="898.0" cy="522.0" r="5.8" fill="#68C5D6"/>
<path d="M1054.0,598.0 L1075.0,604.0 L1085.0,609.0 L1104.0,614.0" fill="none" stroke="#47AE8C" stroke-width="13.0" stroke-linecap="round" stroke-linejoin="round"/>
<path d="M1165.8,619.4 L1165.8,624.5 L1177.6,630.8 L1197.1,639.6 L1211.1,644.3 L1247.3,646.2 L1266.1,648.9 L1225.9,641.2 L1211.6,637.6 L1197.4,632.2 L1178.0,622.5 L1165.8,619.4Z" fill="#47AE8C"/>
<circle cx="1165.8" cy="619.4" r="5.8" fill="#47AE8C"/>
<circle cx="1167.6" cy="625.5" r="5.8" fill="#47AE8C"/>
<circle cx="1174.0" cy="628.9" r="5.8" fill="#47AE8C"/>
<circle cx="1180.4" cy="632.1" r="5.8" fill="#47AE8C"/>
<circle cx="1186.9" cy="635.0" r="5.8" fill="#47AE8C"/>
<circle cx="1193.5" cy="637.9" r="5.8" fill="#47AE8C"/>
<circle cx="1200.1" cy="640.6" r="5.8" fill="#47AE8C"/>
<circle cx="1206.9" cy="642.9" r="5.8" fill="#47AE8C"/>
<circle cx="1213.8" cy="644.4" r="5.8" fill="#47AE8C"/>
<circle cx="1221.0" cy="644.8" r="5.8" fill="#47AE8C"/>
<circle cx="1228.2" cy="645.2" r="5.8" fill="#47AE8C"/>
<circle cx="1235.3" cy="645.6" r="5.8" fill="#47AE8C"/>
<circle cx="1242.5" cy="645.9" r="5.8" fill="#47AE8C"/>
<circle cx="1249.6" cy="646.5" r="5.8" fill="#47AE8C"/>
<circle cx="1256.7" cy="647.5" r="5.8" fill="#47AE8C"/>
<circle cx="1263.8" cy="648.5" r="5.8" fill="#47AE8C"/>
<circle cx="1261.4" cy="648.0" r="5.8" fill="#47AE8C"/>
<circle cx="1254.4" cy="646.6" r="5.8" fill="#47AE8C"/>
<circle cx="1247.3" cy="645.3" r="5.8" fill="#47AE8C"/>
<circle cx="1240.3" cy="643.9" r="5.8" fill="#47AE8C"/>
<circle cx="1233.2" cy="642.6" r="5.8" fill="#47AE8C"/>
<circle cx="1226.2" cy="641.3" r="5.8" fill="#47AE8C"/>
<circle cx="1219.2" cy="639.5" r="5.8" fill="#47AE8C"/>
<circle cx="1212.3" cy="637.8" r="5.8" fill="#47AE8C"/>
<circle cx="1205.6" cy="635.3" r="5.8" fill="#47AE8C"/>
<circle cx="1198.9" cy="632.8" r="5.8" fill="#47AE8C"/>
<circle cx="1192.4" cy="629.7" r="5.8" fill="#47AE8C"/>
<circle cx="1186.0" cy="626.5" r="5.8" fill="#47AE8C"/>
<circle cx="1179.6" cy="623.3" r="5.8" fill="#47AE8C"/>
<circle cx="1172.8" cy="621.2" r="5.8" fill="#47AE8C"/>
<circle cx="1100.0" cy="651.0" r="5.8" fill="#E44C37"/>
<circle cx="1108.0" cy="653.5" r="5.8" fill="#E44C37"/>
<circle cx="1126.7" cy="656.8" r="5.8" fill="#E44C37"/>
<circle cx="1131.0" cy="617.7" r="5.8" fill="#47AE8C"/>
<circle cx="1153.2" cy="587.2" r="5.8" fill="#47AE8C"/>
<circle cx="1157.0" cy="593.0" r="5.8" fill="#47AE8C"/>
<circle cx="1160.0" cy="600.0" r="5.8" fill="#47AE8C"/>
<circle cx="1169.8" cy="620.8" r="5.8" fill="#47AE8C"/>
<circle cx="1186.8" cy="630.0" r="5.8" fill="#47AE8C"/>
<circle cx="1151.6" cy="611.3" r="5.8" fill="#47AE8C"/>
<circle cx="1128.0" cy="616.0" r="5.8" fill="#47AE8C"/>
<circle cx="1136.0" cy="619.0" r="5.8" fill="#47AE8C"/>
<circle cx="1102.0" cy="613.0" r="5.8" fill="#47AE8C"/>
<circle cx="1080.0" cy="605.0" r="5.8" fill="#68C5D6"/>
<circle cx="1086.0" cy="610.0" r="5.8" fill="#68C5D6"/>
<circle cx="1077.2" cy="595.8" r="5.8" fill="#68C5D6"/>
<circle cx="1121.7" cy="599.8" r="5.8" fill="#68C5D6"/>
<circle cx="1121.4" cy="600.5" r="5.8" fill="#68C5D6"/>
<circle cx="1170.5" cy="590.5" r="5.8" fill="#68C5D6"/>
<circle cx="1103.1" cy="584.3" r="5.8" fill="#68C5D6"/>
<circle cx="1106.2" cy="588.2" r="5.8" fill="#68C5D6"/>
<circle cx="1116.3" cy="590.5" r="5.8" fill="#68C5D6"/>
<circle cx="1089.6" cy="585.0" r="5.8" fill="#68C5D6"/>
<circle cx="1101.2" cy="583.4" r="5.8" fill="#68C5D6"/>
<circle cx="1106.7" cy="587.3" r="5.8" fill="#68C5D6"/>
<circle cx="1116.0" cy="590.4" r="5.8" fill="#68C5D6"/>
<circle cx="1052.4" cy="585.0" r="5.8" fill="#68C5D6"/>
<circle cx="1115.5" cy="590.3" r="5.8" fill="#68C5D6"/>
<circle cx="1105.0" cy="587.2" r="5.8" fill="#68C5D6"/>
<circle cx="1171.3" cy="590.3" r="5.8" fill="#68C5D6"/>
<circle cx="1133.0" cy="603.8" r="5.8" fill="#68C5D6"/>
<circle cx="1153.7" cy="601.7" r="5.8" fill="#68C5D6"/>
<circle cx="1165.0" cy="600.7" r="5.8" fill="#68C5D6"/>
<circle cx="1174.4" cy="606.9" r="5.8" fill="#68C5D6"/>
<circle cx="1157.9" cy="617.2" r="5.8" fill="#68C5D6"/>
<circle cx="1178.5" cy="633.7" r="5.8" fill="#68C5D6"/>
<circle cx="1187.8" cy="622.4" r="5.8" fill="#68C5D6"/>
<circle cx="1112.0" cy="620.0" r="5.8" fill="#68C5D6"/>
<circle cx="1125.0" cy="628.0" r="5.8" fill="#68C5D6"/>
<circle cx="1140.0" cy="630.0" r="5.8" fill="#68C5D6"/>
<circle cx="1150.0" cy="628.0" r="5.8" fill="#68C5D6"/>
<circle cx="1165.0" cy="630.0" r="5.8" fill="#68C5D6"/>
<circle cx="1170.0" cy="640.0" r="5.8" fill="#68C5D6"/>
<circle cx="1185.0" cy="645.0" r="5.8" fill="#68C5D6"/>
<circle cx="1198.0" cy="650.0" r="5.8" fill="#68C5D6"/>
<circle cx="1212.0" cy="654.0" r="5.8" fill="#68C5D6"/>
<circle cx="1226.0" cy="657.0" r="5.8" fill="#68C5D6"/>
<circle cx="1240.0" cy="660.0" r="5.8" fill="#68C5D6"/>
<circle cx="1180.0" cy="660.0" r="5.8" fill="#68C5D6"/>
<circle cx="1195.0" cy="663.0" r="5.8" fill="#68C5D6"/>
<circle cx="1212.0" cy="665.0" r="5.8" fill="#68C5D6"/>
<circle cx="1160.0" cy="655.0" r="5.8" fill="#68C5D6"/>
<circle cx="1145.0" cy="650.0" r="5.8" fill="#68C5D6"/>
<circle cx="1130.0" cy="645.0" r="5.8" fill="#68C5D6"/>
<circle cx="1205.0" cy="641.0" r="5.8" fill="#68C5D6"/>
<circle cx="1213.0" cy="640.0" r="5.8" fill="#68C5D6"/>
<circle cx="1220.0" cy="641.0" r="5.8" fill="#68C5D6"/>
<circle cx="1226.0" cy="642.0" r="5.8" fill="#68C5D6"/>
<circle cx="1232.0" cy="645.0" r="5.8" fill="#68C5D6"/>
<circle cx="1205.0" cy="648.0" r="5.8" fill="#68C5D6"/>
<circle cx="1215.0" cy="651.0" r="5.8" fill="#68C5D6"/>
<circle cx="1225.0" cy="653.0" r="5.8" fill="#68C5D6"/>
<circle cx="1238.0" cy="652.0" r="5.8" fill="#68C5D6"/>
<circle cx="1244.0" cy="656.0" r="5.8" fill="#68C5D6"/>
<circle cx="865.0" cy="402.3" r="5.8" fill="#68C5D6"/>
<circle cx="884.9" cy="435.9" r="5.8" fill="#68C5D6"/>
<circle cx="938.9" cy="446.6" r="5.8" fill="#68C5D6"/>
<circle cx="903.0" cy="455.8" r="5.8" fill="#68C5D6"/>
<circle cx="919.5" cy="475.0" r="5.8" fill="#68C5D6"/>
<circle cx="859.1" cy="483.1" r="5.8" fill="#68C5D6"/>
<circle cx="960.6" cy="491.9" r="5.8" fill="#68C5D6"/>
<circle cx="878.0" cy="502.0" r="5.8" fill="#68C5D6"/>
<circle cx="880.0" cy="505.1" r="5.8" fill="#68C5D6"/>
<circle cx="910.5" cy="502.8" r="5.8" fill="#68C5D6"/>
<circle cx="942.0" cy="507.4" r="5.8" fill="#68C5D6"/>
<circle cx="898.1" cy="522.2" r="5.8" fill="#68C5D6"/>
<circle cx="900.8" cy="525.0" r="5.8" fill="#68C5D6"/>
<circle cx="913.2" cy="526.0" r="5.8" fill="#68C5D6"/>
<circle cx="931.8" cy="525.3" r="5.8" fill="#68C5D6"/>
<circle cx="967.9" cy="536.9" r="5.8" fill="#68C5D6"/>
<circle cx="974.9" cy="538.8" r="5.8" fill="#68C5D6"/>
<circle cx="985.6" cy="557.8" r="5.8" fill="#68C5D6"/>
<circle cx="948.5" cy="541.6" r="5.8" fill="#68C5D6"/>
<circle cx="1036.1" cy="547.8" r="5.8" fill="#68C5D6"/>
<circle cx="1061.6" cy="555.5" r="5.8" fill="#68C5D6"/>
<circle cx="1081.0" cy="557.0" r="5.8" fill="#68C5D6"/>
<circle cx="1105.7" cy="555.5" r="5.8" fill="#68C5D6"/>
<circle cx="1071.8" cy="564.8" r="5.8" fill="#68C5D6"/>
<circle cx="1091.2" cy="573.3" r="5.8" fill="#68C5D6"/>
<circle cx="1043.1" cy="575.7" r="5.8" fill="#68C5D6"/>
<circle cx="1119.1" cy="574.9" r="5.8" fill="#68C5D6"/>
<circle cx="1170.2" cy="590.4" r="5.8" fill="#68C5D6"/>
<circle cx="1200.0" cy="588.0" r="5.8" fill="#68C5D6"/>
<circle cx="1202.7" cy="588.5" r="5.8" fill="#68C5D6"/>
<circle cx="1224.5" cy="607.9" r="5.8" fill="#68C5D6"/>
<circle cx="1224.8" cy="626.2" r="5.8" fill="#68C5D6"/>
<circle cx="1011.6" cy="562.5" r="5.8" fill="#68C5D6"/>
<circle cx="1019.4" cy="564.8" r="5.8" fill="#68C5D6"/>
<circle cx="1033.6" cy="567.1" r="5.8" fill="#68C5D6"/>
<circle cx="1042.6" cy="574.9" r="5.8" fill="#68C5D6"/>
<circle cx="1052.7" cy="585.7" r="5.8" fill="#68C5D6"/>
<circle cx="996.0" cy="566.4" r="5.8" fill="#68C5D6"/>
<circle cx="1000.8" cy="567.1" r="5.8" fill="#68C5D6"/>
<circle cx="962.8" cy="554.0" r="5.8" fill="#68C5D6"/>
<circle cx="985.3" cy="558.6" r="5.8" fill="#68C5D6"/>
<circle cx="969.8" cy="589.6" r="5.8" fill="#68C5D6"/>
<circle cx="936.9" cy="596.1" r="5.8" fill="#68C5D6"/>
<circle cx="992.7" cy="619.1" r="5.8" fill="#68C5D6"/>
<circle cx="962.0" cy="625.0" r="5.8" fill="#68C5D6"/>
<circle cx="1092.6" cy="655.4" r="5.8" fill="#68C5D6"/>
<circle cx="1118.2" cy="662.5" r="5.8" fill="#68C5D6"/>
<circle cx="1145.2" cy="663.9" r="5.8" fill="#68C5D6"/>
<circle cx="1167.9" cy="662.5" r="5.8" fill="#68C5D6"/>
<circle cx="1177.8" cy="665.3" r="5.8" fill="#68C5D6"/>
<circle cx="1190.6" cy="668.2" r="5.8" fill="#68C5D6"/>
<circle cx="872.4" cy="252.9" r="5.8" fill="#47AE8C"/>
<circle cx="912.2" cy="349.4" r="5.8" fill="#47AE8C"/>
<circle cx="959.4" cy="438.0" r="5.8" fill="#47AE8C"/>
<circle cx="992.7" cy="485.7" r="5.8" fill="#47AE8C"/>
<circle cx="1016.6" cy="513.6" r="5.8" fill="#47AE8C"/>
<circle cx="1034.7" cy="531.9" r="5.8" fill="#47AE8C"/>
<circle cx="1049.1" cy="545.4" r="5.8" fill="#47AE8C"/>
<circle cx="1083.4" cy="570.2" r="5.8" fill="#47AE8C"/>
<circle cx="1108.2" cy="600.6" r="5.8" fill="#47AE8C"/>
<circle cx="1140.0" cy="598.1" r="5.8" fill="#47AE8C"/>
<circle cx="1154.7" cy="588.0" r="5.8" fill="#47AE8C"/>
<circle cx="1153.5" cy="587.4" r="5.8" fill="#47AE8C"/>
<circle cx="1164.3" cy="559.1" r="5.0" fill="#47AE8C" fill-opacity="0.5" stroke="#47AE8C" stroke-opacity="0.75" stroke-width="1.6"/>
<circle cx="1172.1" cy="570.9" r="5.0" fill="#47AE8C" fill-opacity="0.5" stroke="#47AE8C" stroke-opacity="0.75" stroke-width="1.6"/>
<circle cx="1179.4" cy="578.1" r="5.0" fill="#47AE8C" fill-opacity="0.5" stroke="#47AE8C" stroke-opacity="0.75" stroke-width="1.6"/>
<circle cx="1152.7" cy="578.1" r="5.0" fill="#47AE8C" fill-opacity="0.5" stroke="#47AE8C" stroke-opacity="0.75" stroke-width="1.6"/>
<circle cx="1178.3" cy="598.3" r="5.0" fill="#47AE8C" fill-opacity="0.5" stroke="#47AE8C" stroke-opacity="0.75" stroke-width="1.6"/>
<circle cx="1184.5" cy="604.5" r="5.0" fill="#47AE8C" fill-opacity="0.5" stroke="#47AE8C" stroke-opacity="0.75" stroke-width="1.6"/>
<circle cx="1191.5" cy="609.1" r="5.0" fill="#47AE8C" fill-opacity="0.5" stroke="#47AE8C" stroke-opacity="0.75" stroke-width="1.6"/>
<circle cx="1202.3" cy="613.0" r="5.0" fill="#47AE8C" fill-opacity="0.5" stroke="#47AE8C" stroke-opacity="0.75" stroke-width="1.6"/>
<circle cx="1211.6" cy="618.9" r="5.0" fill="#47AE8C" fill-opacity="0.5" stroke="#47AE8C" stroke-opacity="0.75" stroke-width="1.6"/>
<circle cx="1220.9" cy="623.1" r="5.0" fill="#47AE8C" fill-opacity="0.5" stroke="#47AE8C" stroke-opacity="0.75" stroke-width="1.6"/>
<circle cx="1214.0" cy="631.6" r="5.0" fill="#47AE8C" fill-opacity="0.5" stroke="#47AE8C" stroke-opacity="0.75" stroke-width="1.6"/>
<circle cx="1180.8" cy="577.6" r="5.0" fill="#47AE8C" fill-opacity="0.5" stroke="#47AE8C" stroke-opacity="0.75" stroke-width="1.6"/>
<circle cx="1180.0" cy="598.6" r="5.0" fill="#47AE8C" fill-opacity="0.5" stroke="#47AE8C" stroke-opacity="0.75" stroke-width="1.6"/>
<circle cx="1190.0" cy="608.7" r="5.0" fill="#47AE8C" fill-opacity="0.5" stroke="#47AE8C" stroke-opacity="0.75" stroke-width="1.6"/>
<circle cx="1201.8" cy="612.0" r="5.0" fill="#47AE8C" fill-opacity="0.5" stroke="#47AE8C" stroke-opacity="0.75" stroke-width="1.6"/>
<circle cx="1211.0" cy="618.8" r="5.0" fill="#47AE8C" fill-opacity="0.5" stroke="#47AE8C" stroke-opacity="0.75" stroke-width="1.6"/>
<circle cx="1176.4" cy="598.9" r="5.0" fill="#47AE8C" fill-opacity="0.5" stroke="#47AE8C" stroke-opacity="0.75" stroke-width="1.6"/>
<circle cx="1185.7" cy="603.6" r="5.0" fill="#47AE8C" fill-opacity="0.5" stroke="#47AE8C" stroke-opacity="0.75" stroke-width="1.6"/>
<circle cx="1286.6" cy="656.5" r="5.0" fill="#47AE8C" fill-opacity="0.5" stroke="#47AE8C" stroke-opacity="0.75" stroke-width="1.6"/>
<circle cx="1309.3" cy="659.0" r="5.0" fill="#47AE8C" fill-opacity="0.5" stroke="#47AE8C" stroke-opacity="0.75" stroke-width="1.6"/>
<circle cx="1241.3" cy="617.9" r="5.0" fill="#68C5D6" fill-opacity="0.5" stroke="#68C5D6" stroke-opacity="0.75" stroke-width="1.6"/>
<circle cx="1241.3" cy="631.4" r="5.0" fill="#68C5D6" fill-opacity="0.5" stroke="#68C5D6" stroke-opacity="0.75" stroke-width="1.6"/>
<circle cx="1253.0" cy="636.4" r="5.0" fill="#68C5D6" fill-opacity="0.5" stroke="#68C5D6" stroke-opacity="0.75" stroke-width="1.6"/>
<circle cx="1263.1" cy="640.3" r="5.0" fill="#68C5D6" fill-opacity="0.5" stroke="#68C5D6" stroke-opacity="0.75" stroke-width="1.6"/>
<circle cx="1274.0" cy="647.3" r="5.0" fill="#68C5D6" fill-opacity="0.5" stroke="#68C5D6" stroke-opacity="0.75" stroke-width="1.6"/>
<circle cx="1282.4" cy="650.7" r="5.0" fill="#68C5D6" fill-opacity="0.5" stroke="#68C5D6" stroke-opacity="0.75" stroke-width="1.6"/>
<circle cx="1290.8" cy="646.5" r="5.0" fill="#68C5D6" fill-opacity="0.5" stroke="#68C5D6" stroke-opacity="0.75" stroke-width="1.6"/>
<circle cx="1308.4" cy="650.7" r="5.0" fill="#68C5D6" fill-opacity="0.5" stroke="#68C5D6" stroke-opacity="0.75" stroke-width="1.6"/>
<circle cx="1314.3" cy="662.4" r="5.0" fill="#68C5D6" fill-opacity="0.5" stroke="#68C5D6" stroke-opacity="0.75" stroke-width="1.6"/>
<circle cx="1329.4" cy="654.9" r="5.0" fill="#68C5D6" fill-opacity="0.5" stroke="#68C5D6" stroke-opacity="0.75" stroke-width="1.6"/>
<circle cx="1133.8" cy="665.3" r="5.0" fill="#68C5D6" fill-opacity="0.5" stroke="#68C5D6" stroke-opacity="0.75" stroke-width="1.6"/>
<circle cx="1209.0" cy="664.0" r="5.0" fill="#E44C37" fill-opacity="0.75" stroke="#E44C37" stroke-opacity="0.94" stroke-width="1.6"/>
<circle cx="1213.2" cy="664.8" r="5.0" fill="#E44C37" fill-opacity="0.75" stroke="#E44C37" stroke-opacity="0.94" stroke-width="1.6"/>
<circle cx="1220.0" cy="668.0" r="5.0" fill="#E44C37" fill-opacity="0.75" stroke="#E44C37" stroke-opacity="0.94" stroke-width="1.6"/>
<circle cx="1218.0" cy="667.0" r="5.0" fill="#E44C37" fill-opacity="0.75" stroke="#E44C37" stroke-opacity="0.94" stroke-width="1.6"/>
<circle cx="1235.3" cy="668.0" r="5.0" fill="#E44C37" fill-opacity="0.75" stroke="#E44C37" stroke-opacity="0.94" stroke-width="1.6"/>
<circle cx="1240.0" cy="669.5" r="5.0" fill="#E44C37" fill-opacity="0.75" stroke="#E44C37" stroke-opacity="0.94" stroke-width="1.6"/>
<circle cx="1248.0" cy="665.5" r="5.0" fill="#E44C37" fill-opacity="0.75" stroke="#E44C37" stroke-opacity="0.94" stroke-width="1.6"/>
<circle cx="1248.7" cy="671.0" r="5.0" fill="#E44C37" fill-opacity="0.75" stroke="#E44C37" stroke-opacity="0.94" stroke-width="1.6"/>
<circle cx="1256.0" cy="668.0" r="5.0" fill="#E44C37" fill-opacity="0.75" stroke="#E44C37" stroke-opacity="0.94" stroke-width="1.6"/>
<circle cx="1263.0" cy="669.5" r="5.0" fill="#E44C37" fill-opacity="0.75" stroke="#E44C37" stroke-opacity="0.94" stroke-width="1.6"/>
<circle cx="1274.8" cy="667.0" r="5.0" fill="#E44C37" fill-opacity="0.75" stroke="#E44C37" stroke-opacity="0.94" stroke-width="1.6"/>
<circle cx="1284.3" cy="670.3" r="5.0" fill="#E44C37" fill-opacity="0.75" stroke="#E44C37" stroke-opacity="0.94" stroke-width="1.6"/>
<circle cx="1296.0" cy="664.8" r="5.0" fill="#E44C37" fill-opacity="0.75" stroke="#E44C37" stroke-opacity="0.94" stroke-width="1.6"/>
<circle cx="1309.5" cy="668.0" r="5.0" fill="#E44C37" fill-opacity="0.75" stroke="#E44C37" stroke-opacity="0.94" stroke-width="1.6"/>
<circle cx="1241.6" cy="633.2" r="5.0" fill="#68C5D6" fill-opacity="0.45" stroke="#68C5D6" stroke-opacity="0.70" stroke-width="1.6"/>
<circle cx="1252.7" cy="636.3" r="5.0" fill="#68C5D6" fill-opacity="0.45" stroke="#68C5D6" stroke-opacity="0.70" stroke-width="1.6"/>
<circle cx="1263.0" cy="639.5" r="5.0" fill="#68C5D6" fill-opacity="0.45" stroke="#68C5D6" stroke-opacity="0.70" stroke-width="1.6"/>
<circle cx="1274.8" cy="649.0" r="5.0" fill="#68C5D6" fill-opacity="0.45" stroke="#68C5D6" stroke-opacity="0.70" stroke-width="1.6"/>
<circle cx="1282.0" cy="650.5" r="5.0" fill="#68C5D6" fill-opacity="0.45" stroke="#68C5D6" stroke-opacity="0.70" stroke-width="1.6"/>
<circle cx="1290.6" cy="646.6" r="5.0" fill="#68C5D6" fill-opacity="0.45" stroke="#68C5D6" stroke-opacity="0.70" stroke-width="1.6"/>
<circle cx="1308.0" cy="650.5" r="5.0" fill="#68C5D6" fill-opacity="0.45" stroke="#68C5D6" stroke-opacity="0.70" stroke-width="1.6"/>
<circle cx="1314.3" cy="662.4" r="5.0" fill="#68C5D6" fill-opacity="0.45" stroke="#68C5D6" stroke-opacity="0.70" stroke-width="1.6"/>
<circle cx="1292.0" cy="662.4" r="5.0" fill="#68C5D6" fill-opacity="0.45" stroke="#68C5D6" stroke-opacity="0.70" stroke-width="1.6"/>
<circle cx="1286.6" cy="655.3" r="5.0" fill="#47AE8C" fill-opacity="0.5" stroke="#47AE8C" stroke-opacity="0.75" stroke-width="1.6"/>
<circle cx="1308.8" cy="659.2" r="5.0" fill="#47AE8C" fill-opacity="0.5" stroke="#47AE8C" stroke-opacity="0.75" stroke-width="1.6"/>
<circle cx="1346.2" cy="670.6" r="5.8" fill="#E44C37"/>
<circle cx="1373.3" cy="642.6" r="5.8" fill="#47AE8C"/>
<circle cx="1375.5" cy="648.0" r="5.8" fill="#47AE8C"/>
<circle cx="1377.0" cy="655.0" r="5.8" fill="#47AE8C"/>
<circle cx="1377.5" cy="662.0" r="5.8" fill="#47AE8C"/>
<circle cx="1377.0" cy="669.0" r="5.8" fill="#47AE8C"/>
<circle cx="1369.3" cy="650.7" r="5.8" fill="#68C5D6"/>
<circle cx="1370.6" cy="654.4" r="5.8" fill="#68C5D6"/>
<circle cx="1367.0" cy="649.0" r="5.8" fill="#68C5D6"/>
<circle cx="1372.0" cy="651.0" r="5.8" fill="#68C5D6"/>
<circle cx="1369.0" cy="656.0" r="5.8" fill="#68C5D6"/>
<circle cx="1355.3" cy="661.6" r="5.8" fill="#68C5D6"/>
<circle cx="1354.4" cy="672.4" r="5.8" fill="#68C5D6"/>
<circle cx="1356.0" cy="667.0" r="5.8" fill="#68C5D6"/>
<circle cx="1374.2" cy="659.0" r="5.8" fill="#E44C37"/>
<circle cx="1376.0" cy="667.0" r="5.8" fill="#E44C37"/>
<circle cx="1374.2" cy="674.2" r="5.8" fill="#E44C37"/>
<circle cx="1363.4" cy="663.4" r="5.8" fill="#E44C37"/>
<circle cx="1365.2" cy="675.2" r="5.8" fill="#E44C37"/>
<circle cx="1370.6" cy="670.6" r="5.8" fill="#E44C37"/>
<circle cx="1364.0" cy="669.0" r="5.8" fill="#E44C37"/>
<circle cx="1370.0" cy="662.0" r="5.8" fill="#E44C37"/>
<circle cx="1367.0" cy="665.0" r="5.8" fill="#E44C37"/></g>
<rect x="77.5" y="50.5" width="637.8" height="653.7" fill="none" stroke="#333333" stroke-width="1.5"/>
<line x1="256.4" y1="704.2" x2="256.4" y2="711.5" stroke="#1f1f1f" stroke-width="2.3"/>
<text x="256.4" y="733.7" font-size="24.6" fill="#383838" text-anchor="middle">5</text>
<line x1="471.5" y1="704.2" x2="471.5" y2="711.5" stroke="#1f1f1f" stroke-width="2.3"/>
<text x="471.5" y="733.7" font-size="24.6" fill="#383838" text-anchor="middle">6</text>
<line x1="686.7" y1="704.2" x2="686.7" y2="711.5" stroke="#1f1f1f" stroke-width="2.3"/>
<text x="686.7" y="733.7" font-size="24.6" fill="#383838" text-anchor="middle">7</text>
<line x1="70.2" y1="675.2" x2="77.5" y2="675.2" stroke="#1f1f1f" stroke-width="2.3"/>
<text x="63.7" y="683.4" font-size="24.6" fill="#383838" text-anchor="end">0</text>
<line x1="70.2" y1="556.1" x2="77.5" y2="556.1" stroke="#1f1f1f" stroke-width="2.3"/>
<text x="63.7" y="564.3" font-size="24.6" fill="#383838" text-anchor="end">1</text>
<line x1="70.2" y1="437.0" x2="77.5" y2="437.0" stroke="#1f1f1f" stroke-width="2.3"/>
<text x="63.7" y="445.2" font-size="24.6" fill="#383838" text-anchor="end">2</text>
<line x1="70.2" y1="317.8" x2="77.5" y2="317.8" stroke="#1f1f1f" stroke-width="2.3"/>
<text x="63.7" y="326.0" font-size="24.6" fill="#383838" text-anchor="end">3</text>
<line x1="70.2" y1="198.7" x2="77.5" y2="198.7" stroke="#1f1f1f" stroke-width="2.3"/>
<text x="63.7" y="206.9" font-size="24.6" fill="#383838" text-anchor="end">4</text>
<line x1="70.2" y1="79.6" x2="77.5" y2="79.6" stroke="#1f1f1f" stroke-width="2.3"/>
<text x="63.7" y="87.8" font-size="24.6" fill="#383838" text-anchor="end">5</text>
<rect x="830.4" y="50.5" width="637.6" height="653.7" fill="none" stroke="#333333" stroke-width="1.5"/>
<line x1="1009.1" y1="704.2" x2="1009.1" y2="711.5" stroke="#1f1f1f" stroke-width="2.3"/>
<text x="1009.1" y="733.7" font-size="24.6" fill="#383838" text-anchor="middle">5</text>
<line x1="1224.3" y1="704.2" x2="1224.3" y2="711.5" stroke="#1f1f1f" stroke-width="2.3"/>
<text x="1224.3" y="733.7" font-size="24.6" fill="#383838" text-anchor="middle">6</text>
<line x1="1439.6" y1="704.2" x2="1439.6" y2="711.5" stroke="#1f1f1f" stroke-width="2.3"/>
<text x="1439.6" y="733.7" font-size="24.6" fill="#383838" text-anchor="middle">7</text>
<line x1="823.1" y1="675.3" x2="830.4" y2="675.3" stroke="#1f1f1f" stroke-width="2.3"/>
<text x="816.6" y="683.5" font-size="24.6" fill="#383838" text-anchor="end">0</text>
<line x1="823.1" y1="556.2" x2="830.4" y2="556.2" stroke="#1f1f1f" stroke-width="2.3"/>
<text x="816.6" y="564.4" font-size="24.6" fill="#383838" text-anchor="end">10</text>
<line x1="823.1" y1="437.0" x2="830.4" y2="437.0" stroke="#1f1f1f" stroke-width="2.3"/>
<text x="816.6" y="445.2" font-size="24.6" fill="#383838" text-anchor="end">20</text>
<line x1="823.1" y1="317.9" x2="830.4" y2="317.9" stroke="#1f1f1f" stroke-width="2.3"/>
<text x="816.6" y="326.1" font-size="24.6" fill="#383838" text-anchor="end">30</text>
<line x1="823.1" y1="198.7" x2="830.4" y2="198.7" stroke="#1f1f1f" stroke-width="2.3"/>
<text x="816.6" y="206.9" font-size="24.6" fill="#383838" text-anchor="end">40</text>
<line x1="823.1" y1="79.6" x2="830.4" y2="79.6" stroke="#1f1f1f" stroke-width="2.3"/>
<text x="816.6" y="87.8" font-size="24.6" fill="#383838" text-anchor="end">50</text>
<text x="396.4" y="766.5" font-size="30.7" text-anchor="middle" fill="#000">pH</text>
<text x="1149.2" y="766.5" font-size="30.7" text-anchor="middle" fill="#000">pH</text>
<text transform="translate(32.3,378.5) rotate(-90)" font-size="30.7" text-anchor="middle" fill="#000">Cadmium in soil solution (μg L<tspan dy="-13.5" font-size="21">-1</tspan><tspan dy="13.5">)</tspan></text>
<text transform="translate(772.4,378) rotate(-90)" font-size="30.7" text-anchor="middle" fill="#000">Cadmium leaching rate (g ha<tspan dy="-13.5" font-size="21">-1</tspan><tspan dy="13.5" dx="-3.5"> yr</tspan><tspan dy="-13.5" font-size="21">-1</tspan><tspan dy="13.5">)</tspan></text>
<text x="77.2" y="28.3" font-size="36.5" fill="#000">(a)</text>
<text x="830.2" y="28.3" font-size="36.5" fill="#000">(b)</text>
<text x="1511.8" y="200" font-size="30.2" fill="#000">Clay</text>
<circle cx="1532.6" cy="239.3" r="5.0" fill="#000" fill-opacity="0.12" stroke="#000" stroke-opacity="0.23" stroke-width="1.6"/>
<text x="1568.8" y="247.6" font-size="24.6" fill="#000">Clay (&gt;35%)</text>
<circle cx="1532.6" cy="283.3" r="5.0" fill="#000" fill-opacity="0.5" stroke="#000" stroke-opacity="0.75" stroke-width="1.6"/>
<text x="1568.8" y="291.6" font-size="24.6" fill="#000">Loamy (18-35%)</text>
<circle cx="1532.6" cy="327.5" r="5.8" fill="#000"/>
<text x="1568.8" y="335.8" font-size="24.6" fill="#000">Sandy (&lt;18%)</text>
<text x="1511.8" y="428.8" font-size="30.2" fill="#000">SOC</text>
<circle cx="1532.6" cy="468.3" r="5.8" fill="#E44C37"/>
<text x="1568.8" y="476.6" font-size="24.6" fill="#000">High (&gt;2.5%)</text>
<circle cx="1532.6" cy="512.0" r="5.8" fill="#68C5D6"/>
<text x="1568.8" y="520.3" font-size="24.6" fill="#000">Medium (1.5~2.5%)</text>
<circle cx="1532.6" cy="556.0" r="5.8" fill="#47AE8C"/>
<text x="1568.8" y="564.3" font-size="24.6" fill="#000">Low (0.5~1.5%)</text>
</svg>
</body></html>
